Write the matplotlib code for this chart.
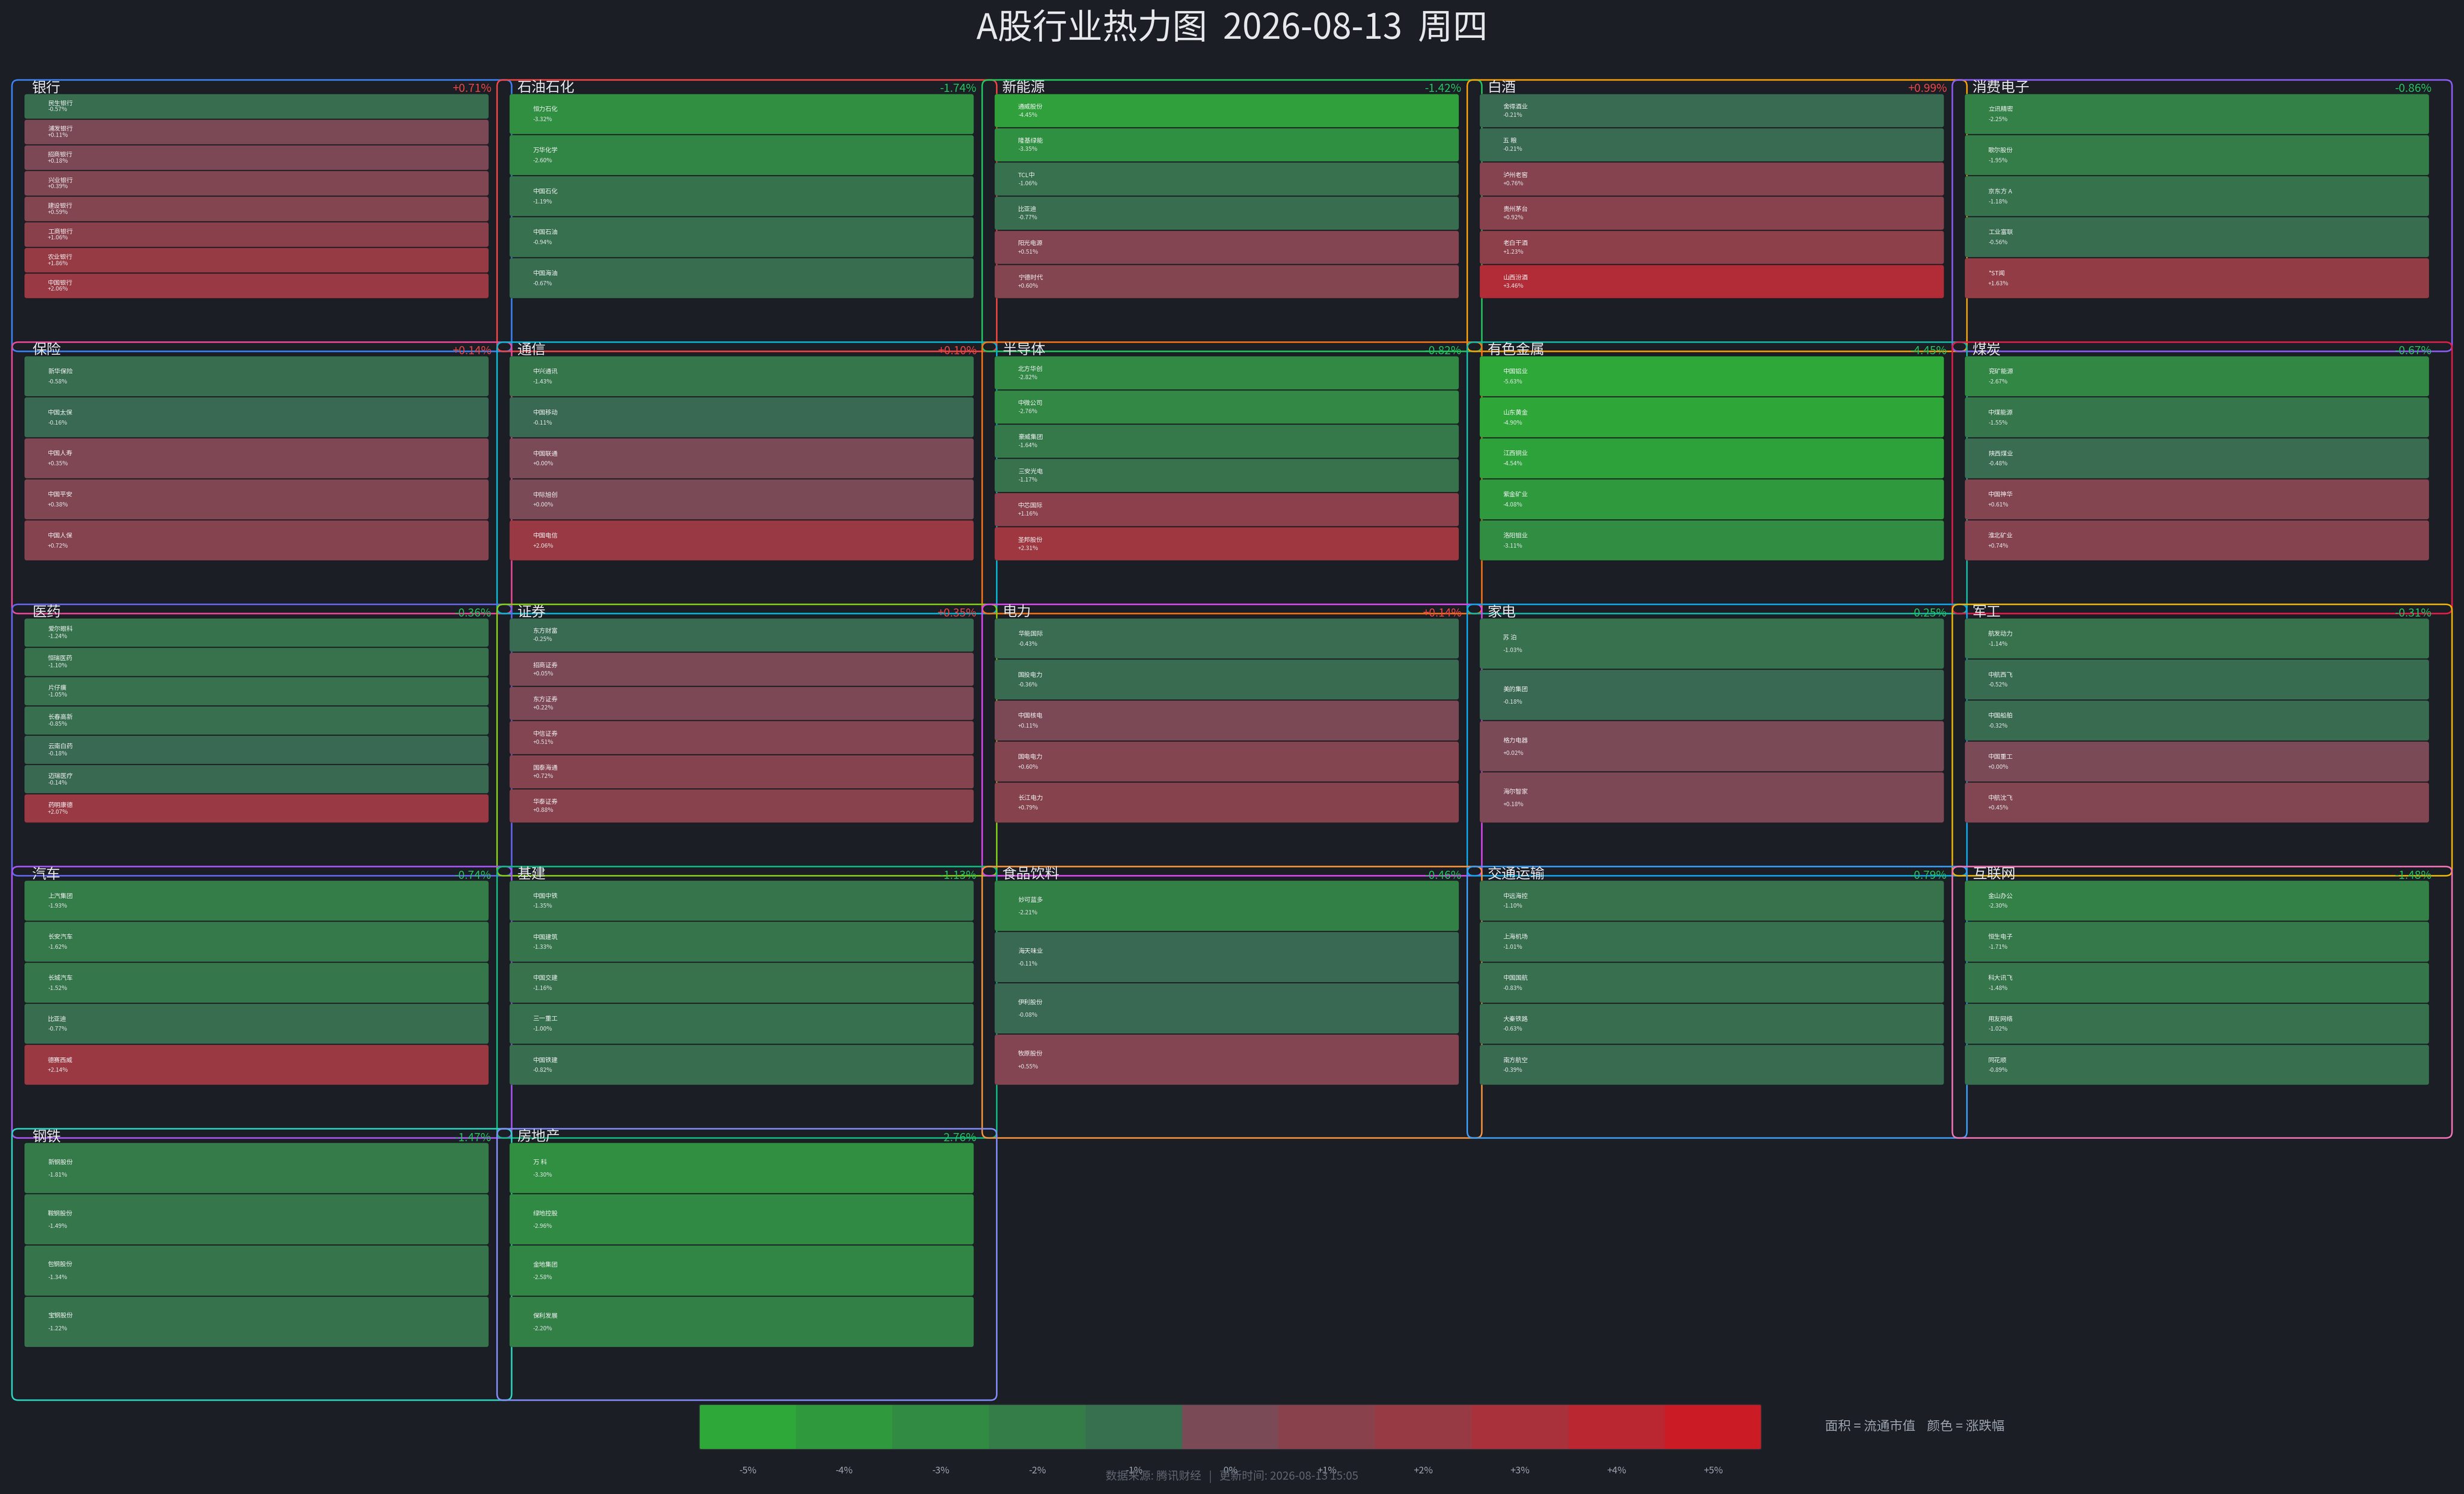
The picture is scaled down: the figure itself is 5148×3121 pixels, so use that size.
import matplotlib
matplotlib.use("Agg")
import matplotlib.pyplot as plt
from matplotlib.patches import FancyBboxPatch
from matplotlib.colors import LinearSegmentedColormap, Normalize

plt.rcParams['font.family'] = ['Noto Sans CJK SC', 'DejaVu Sans']

# ---------------- data ----------------
sector_names = ["银行", "石油石化", "新能源", "白酒", "消费电子",
                "保险", "通信", "半导体", "有色金属", "煤炭",
                "医药", "证券", "电力", "家电", "军工",
                "汽车", "基建", "食品饮料", "交通运输", "互联网",
                "钢铁", "房地产"]
sector_pcts = [0.71, -1.74, -1.42, 0.99, -0.86,
               0.14, 0.10, -0.82, -4.45, -0.67,
               -0.36, 0.35, 0.14, -0.25, -0.31,
               -0.74, -1.13, -0.46, -0.79, -1.48,
               -1.47, -2.76]
sector_colors = ["#3b82f6", "#ef4444", "#22c55e", "#f59e0b", "#8b5cf6",
                 "#ec4899", "#06b6d4", "#f97316", "#14b8a6", "#e11d48",
                 "#6366f1", "#84cc16", "#d946ef", "#0ea5e9", "#eab308",
                 "#a855f7", "#10b981", "#fb923c", "#3b9cf6", "#f472b6",
                 "#2dd4bf", "#818cf8"]

stock_names = [
    ["民生银行", "浦发银行", "招商银行", "兴业银行", "建设银行", "工商银行", "农业银行", "中国银行"],
    ["恒力石化", "万华化学", "中国石化", "中国石油", "中国海油"],
    ["通威股份", "隆基绿能", "TCL中", "比亚迪", "阳光电源", "宁德时代"],
    ["舍得酒业", "五 粮", "泸州老窖", "贵州茅台", "老白干酒", "山西汾酒"],
    ["立讯精密", "歌尔股份", "京东方 A", "工业富联", "*ST闻"],
    ["新华保险", "中国太保", "中国人寿", "中国平安", "中国人保"],
    ["中兴通讯", "中国移动", "中国联通", "中际旭创", "中国电信"],
    ["北方华创", "中微公司", "豪威集团", "三安光电", "中芯国际", "圣邦股份"],
    ["中国铝业", "山东黄金", "江西铜业", "紫金矿业", "洛阳钼业"],
    ["兖矿能源", "中煤能源", "陕西煤业", "中国神华", "淮北矿业"],
    ["爱尔眼科", "恒瑞医药", "片仔癀", "长春高新", "云南白药", "迈瑞医疗", "药明康德"],
    ["东方财富", "招商证券", "东方证券", "中信证券", "国泰海通", "华泰证券"],
    ["华能国际", "国投电力", "中国核电", "国电电力", "长江电力"],
    ["苏 泊", "美的集团", "格力电器", "海尔智家"],
    ["航发动力", "中航西飞", "中国船舶", "中国重工", "中航沈飞"],
    ["上汽集团", "长安汽车", "长城汽车", "比亚迪", "德赛西威"],
    ["中国中铁", "中国建筑", "中国交建", "三一重工", "中国铁建"],
    ["妙可蓝多", "海天味业", "伊利股份", "牧原股份"],
    ["中远海控", "上海机场", "中国国航", "大秦铁路", "南方航空"],
    ["金山办公", "恒生电子", "科大讯飞", "用友网络", "同花顺"],
    ["新钢股份", "鞍钢股份", "包钢股份", "宝钢股份"],
    ["万 科", "绿地控股", "金地集团", "保利发展"],
]
stock_pcts = [
    [-0.57, 0.11, 0.18, 0.39, 0.59, 1.06, 1.86, 2.06],
    [-3.32, -2.60, -1.19, -0.94, -0.67],
    [-4.45, -3.35, -1.06, -0.77, 0.51, 0.60],
    [-0.21, -0.21, 0.76, 0.92, 1.23, 3.46],
    [-2.25, -1.95, -1.18, -0.56, 1.63],
    [-0.58, -0.16, 0.35, 0.38, 0.72],
    [-1.43, -0.11, 0.00, 0.00, 2.06],
    [-2.82, -2.76, -1.64, -1.17, 1.16, 2.31],
    [-5.63, -4.90, -4.54, -4.08, -3.11],
    [-2.67, -1.55, -0.48, 0.61, 0.74],
    [-1.24, -1.10, -1.05, -0.85, -0.18, -0.14, 2.07],
    [-0.25, 0.05, 0.22, 0.51, 0.72, 0.88],
    [-0.43, -0.36, 0.11, 0.60, 0.79],
    [-1.03, -0.18, 0.02, 0.18],
    [-1.14, -0.52, -0.32, 0.00, 0.45],
    [-1.93, -1.62, -1.52, -0.77, 2.14],
    [-1.35, -1.33, -1.16, -1.00, -0.82],
    [-2.21, -0.11, -0.08, 0.55],
    [-1.10, -1.01, -0.83, -0.63, -0.39],
    [-2.30, -1.71, -1.48, -1.02, -0.89],
    [-1.81, -1.49, -1.34, -1.22],
    [-3.30, -2.96, -2.58, -2.20],
]
legend_ticks = [-5, -4, -3, -2, -1, 0, 1, 2, 3, 4, 5]

title_text = "A股行业热力图  2026-08-13  周四"
footer_text = "数据来源: 腾讯财经   |   更新时间: 2026-08-13 15:05"
caption_text = "面积 = 流通市值    颜色 = 涨跌幅"

# ---------------- styling ----------------
BG = "#1b1e25"
W, H = 5148, 3121
PT = 0.72  # points per pixel at dpi=100

cmap = LinearSegmentedColormap.from_list("heat", [
    (0.0, "#2ea838"), (0.1, "#2f993d"), (0.2, "#318b43"), (0.3, "#347d48"),
    (0.4, "#37704e"), (0.4999, "#3a6853"), (0.5, "#7a4a57"), (0.6, "#89414c"),
    (0.7, "#983a43"), (0.8, "#a9313b"), (0.9, "#ba2731"), (1.0, "#cb1c26")])
norm = Normalize(vmin=-5, vmax=5, clip=True)

fig = plt.figure(figsize=(W / 100, H / 100), dpi=100)
fig.patch.set_facecolor(BG)
ax = fig.add_axes([0, 0, 1, 1])
ax.set_xlim(0, W)
ax.set_ylim(H, 0)
ax.axis("off")
ax.set_facecolor(BG)

ax.text(W / 2, 60, title_text, ha="center", va="center",
        fontsize=73 * PT, color="#e5e7eb")

NCOL = 5
COL_PITCH, ROW_PITCH = 1013.5, 547.75
BOX_W, BOX_H = 1044, 567
X0, Y0 = 25, 167

for k, name in enumerate(sector_names):
    r, c = divmod(k, NCOL)
    bx = X0 + c * COL_PITCH
    by = Y0 + r * ROW_PITCH
    # group border
    ax.add_patch(FancyBboxPatch((bx, by), BOX_W, BOX_H,
                                boxstyle="round,pad=0,rounding_size=13",
                                fill=False, ec=sector_colors[k], lw=3.2 * PT,
                                zorder=1))
    # header
    ax.text(bx + 42, by + 17, name, ha="left", va="center",
            fontsize=30 * PT, color="#e5e7eb", zorder=4)
    sp = sector_pcts[k]
    ax.text(bx + 1002, by + 19, f"{sp:+.2f}%", ha="right", va="center",
            fontsize=24 * PT, color="#ef4444" if sp >= 0 else "#22c55e",
            zorder=4)
    # tiles
    tx0, tx1 = bx + 26, bx + 996
    ty0, ty1 = by + 28.5, by + 457
    n = len(stock_names[k])
    th = (ty1 - ty0) / n
    gap = 2.0
    for i, (sn, pv) in enumerate(zip(stock_names[k], stock_pcts[k])):
        col = cmap(norm(pv))
        y = ty0 + i * th
        ax.add_patch(FancyBboxPatch((tx0, y + gap / 2), tx1 - tx0, th - gap,
                                    boxstyle="round,pad=0,rounding_size=5",
                                    fc=col, ec=(0, 0, 0, 0.18), lw=1.0 * PT,
                                    zorder=2))
        cy = y + th / 2
        s = 0.25 * th - 2
        ax.text(tx0 + 49, cy - 0.44 * s - 1, sn, ha="left", va="center",
                fontsize=13 * PT, color="#f3f4f6", zorder=3)
        ax.text(tx0 + 49, cy + 0.58 * s, f"{pv:+.2f}%", ha="left",
                va="center", fontsize=12.5 * PT, color="#e5e7eb", zorder=3)

# ---------------- legend ----------------
LX0, LX1 = 1461, 3680
LY0, LY1 = 2934, 3028
cw = (LX1 - LX0) / len(legend_ticks)
for i, v in enumerate(legend_ticks):
    ax.add_patch(plt.Rectangle((LX0 + i * cw, LY0), cw, LY1 - LY0,
                               fc=cmap(norm(v)), ec="none", zorder=2))
    ax.text(LX0 + (i + 0.5) * cw, 3073, f"{v:+d}%" if v != 0 else "0%",
            ha="center", va="center", fontsize=20 * PT, color="#9ca3af",
            zorder=3)
ax.add_patch(FancyBboxPatch((LX0, LY0), LX1 - LX0, LY1 - LY0,
                            boxstyle="round,pad=0,rounding_size=4",
                            fill=False, ec="#2a2d33", lw=2 * PT, zorder=3))
ax.text(3813, 2980, caption_text, ha="left", va="center",
        fontsize=27 * PT, color="#9ca3af")
ax.text(W / 2, 3084, footer_text, ha="center", va="center",
        fontsize=23.5 * PT, color="#5f6570", zorder=4)

fig.savefig("out.png", dpi=100, facecolor=BG)
